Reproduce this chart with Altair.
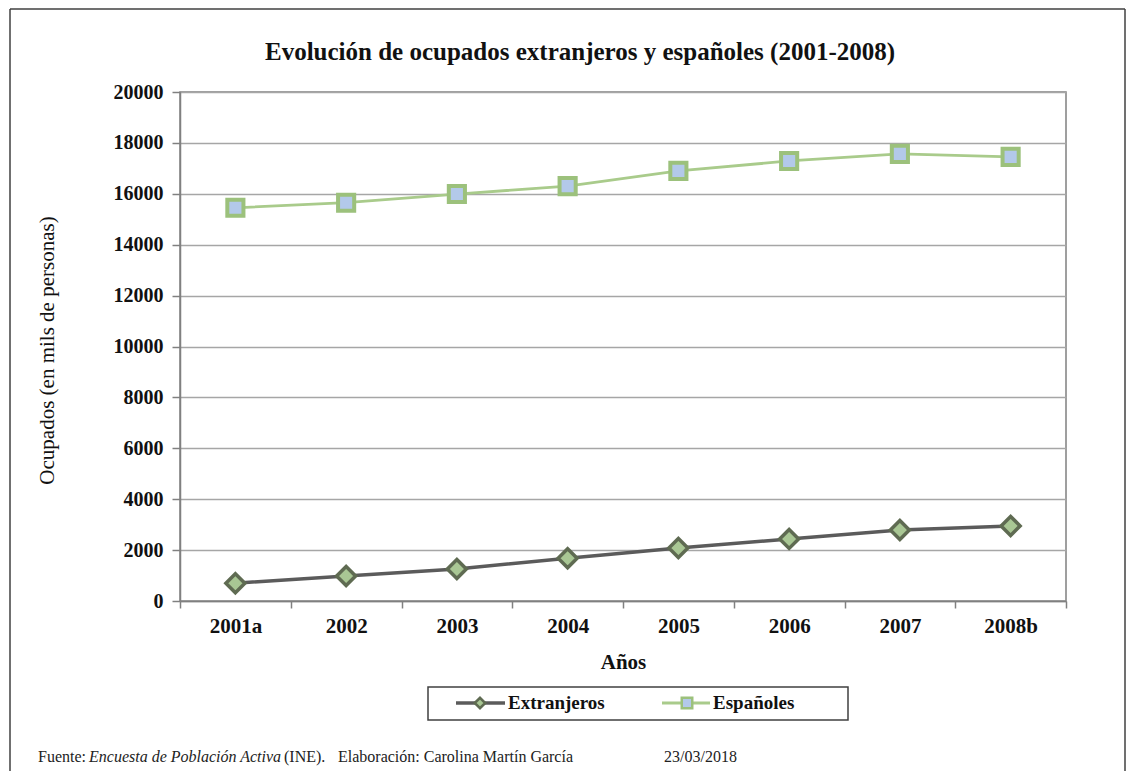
import altair as alt
import pandas as pd

anios = ["2001a", "2002", "2003", "2004", "2005", "2006", "2007", "2008b"]
extranjeros = [700, 980, 1260, 1680, 2080, 2440, 2790, 2950]
espanoles = [15450, 15650, 15990, 16300, 16900, 17290, 17570, 17450]
series = ["Extranjeros", "Españoles"]
y_ticks = list(range(0, 20001, 2000))

titulo = "Evolución de ocupados extranjeros y españoles (2001-2008)"
y_titulo = "Ocupados (en mils de personas)"
x_titulo = "Años"
fuente = ["Fuente:", "Encuesta de Población Activa", "(INE).", "Elaboración: Carolina Martín García", "23/03/2018"]

df = pd.DataFrame({
    "Año": anios * 2,
    "Ocupados": extranjeros + espanoles,
    "Serie": [series[0]] * len(anios) + [series[1]] * len(anios),
})
one = pd.DataFrame({"k": [0]})

W, H = 886, 509
SERIF = "Liberation Serif"
GRID = "#a6a6a6"
AX = "#808080"
GREEN_LINE = "#a9cb8b"
GREEN_MK = "#9cc17c"
BLUE_FILL = "#b3c9ea"
DARK_LINE = "#5b5b5b"
DIA_STROKE = "#5f6b52"
DIA_FILL = "#a9c794"

xenc = alt.X(
    "Año:N", sort=anios, bandPosition=0.5,
    scale=alt.Scale(type="band", paddingInner=0, paddingOuter=0),
    axis=alt.Axis(
        title=x_titulo, labelAngle=0, tickBand="extent", tickSize=7,
        labelFont=SERIF, labelFontWeight="bold", labelFontSize=21, labelColor="#111",
        labelPadding=7, titleFont=SERIF, titleFontWeight="bold", titleFontSize=21,
        titleColor="#111", titlePadding=15, domainColor=AX, tickColor=AX,
        domainWidth=1.5, tickWidth=1.5,
    ),
)
yenc = alt.Y(
    "Ocupados:Q",
    scale=alt.Scale(domain=[0, 20000], nice=False),
    axis=alt.Axis(
        title=y_titulo, values=y_ticks, format="d", tickSize=8,
        labelFont=SERIF, labelFontWeight="bold", labelFontSize=20, labelColor="#111",
        labelPadding=9, titleFont=SERIF, titleFontWeight="normal", titleFontSize=21,
        titleColor="#111", titleX=-133, titleY=258, titleAngle=270,
        titleBaseline="middle", titleAlign="center",
        grid=True, gridColor=GRID, gridWidth=1.5, domainColor=AX, tickColor=AX,
        domainWidth=1.5, tickWidth=1.5,
    ),
)

base = alt.Chart(df).encode(x=xenc, y=yenc)

line_ext = base.transform_filter(alt.datum.Serie == series[0]).mark_line(
    color=DARK_LINE, strokeWidth=3.5)
pts_ext = base.transform_filter(alt.datum.Serie == series[0]).mark_point(
    shape="diamond", size=360, filled=True, fill=DIA_FILL, stroke=DIA_STROKE,
    strokeWidth=3.5, opacity=1)
line_esp = base.transform_filter(alt.datum.Serie == series[1]).mark_line(
    color=GREEN_LINE, strokeWidth=2.8)
pts_esp = base.transform_filter(alt.datum.Serie == series[1]).mark_point(
    shape="square", size=260, filled=True, fill=BLUE_FILL, stroke=GREEN_MK,
    strokeWidth=4, opacity=1)

# outer frame (left, top, right)
frame_style = dict(color="#404040", strokeWidth=1.5)
frame = (
    alt.Chart(one).mark_rule(**frame_style).encode(x=alt.value(-170), y=alt.value(-83), y2=alt.value(700))
    + alt.Chart(one).mark_rule(**frame_style).encode(x=alt.value(-170), x2=alt.value(945), y=alt.value(-83))
    + alt.Chart(one).mark_rule(**frame_style).encode(x=alt.value(945), y=alt.value(-83), y2=alt.value(700))
)

title = alt.Chart(one).mark_text(
    text=titulo, font=SERIF, fontWeight="bold", fontSize=25, color="#111", align="center", baseline="middle"
).encode(x=alt.value(400), y=alt.value(-40))

# legend
legend_box = alt.Chart(one).mark_rect(fill="white", stroke="#404040", strokeWidth=1.5).encode(
    x=alt.value(248), x2=alt.value(668), y=alt.value(595), y2=alt.value(628))
lg_y = 611
lg_font = dict(font=SERIF, fontWeight="bold", fontSize=19, color="#111", align="left", baseline="middle")
leg = (
    alt.Chart(one).mark_rule(color=DARK_LINE, strokeWidth=3.5).encode(x=alt.value(276), x2=alt.value(325), y=alt.value(lg_y))
    + alt.Chart(one).mark_point(shape="diamond", size=110, filled=True, fill=DIA_FILL, stroke=DIA_STROKE, strokeWidth=2.5, opacity=1).encode(x=alt.value(300), y=alt.value(lg_y))
    + alt.Chart(one).mark_text(text=series[0], **lg_font).encode(x=alt.value(328), y=alt.value(lg_y))
    + alt.Chart(one).mark_rule(color=GREEN_LINE, strokeWidth=2.8).encode(x=alt.value(482), x2=alt.value(530), y=alt.value(lg_y))
    + alt.Chart(one).mark_point(shape="square", size=110, filled=True, fill=BLUE_FILL, stroke=GREEN_MK, strokeWidth=2.5, opacity=1).encode(x=alt.value(507), y=alt.value(lg_y))
    + alt.Chart(one).mark_text(text=series[1], **lg_font).encode(x=alt.value(533), y=alt.value(lg_y))
)

# footer
fy = 665
ft = dict(font=SERIF, fontSize=16, color="#222", align="left", baseline="middle")
footer = (
    alt.Chart(one).mark_text(text=fuente[0], **ft).encode(x=alt.value(-142), y=alt.value(fy))
    + alt.Chart(one).mark_text(text=fuente[1], fontStyle="italic", **ft).encode(x=alt.value(-91), y=alt.value(fy))
    + alt.Chart(one).mark_text(text=fuente[2], **ft).encode(x=alt.value(104), y=alt.value(fy))
    + alt.Chart(one).mark_text(text=fuente[3], **ft).encode(x=alt.value(158), y=alt.value(fy))
    + alt.Chart(one).mark_text(text=fuente[4], **ft).encode(x=alt.value(484), y=alt.value(fy))
)

chart = alt.layer(
    line_ext, line_esp, pts_ext, pts_esp, frame, title, legend_box, leg, footer
).properties(
    width=W, height=H,
    autosize=alt.AutoSizeParams(type="none"),
    padding={"left": 172, "top": 84, "right": 60, "bottom": 170},
    background="white",
).configure_view(stroke=AX, strokeWidth=1.5)

chart.save("out.html", embed_options={"renderer": "svg", "actions": False})
